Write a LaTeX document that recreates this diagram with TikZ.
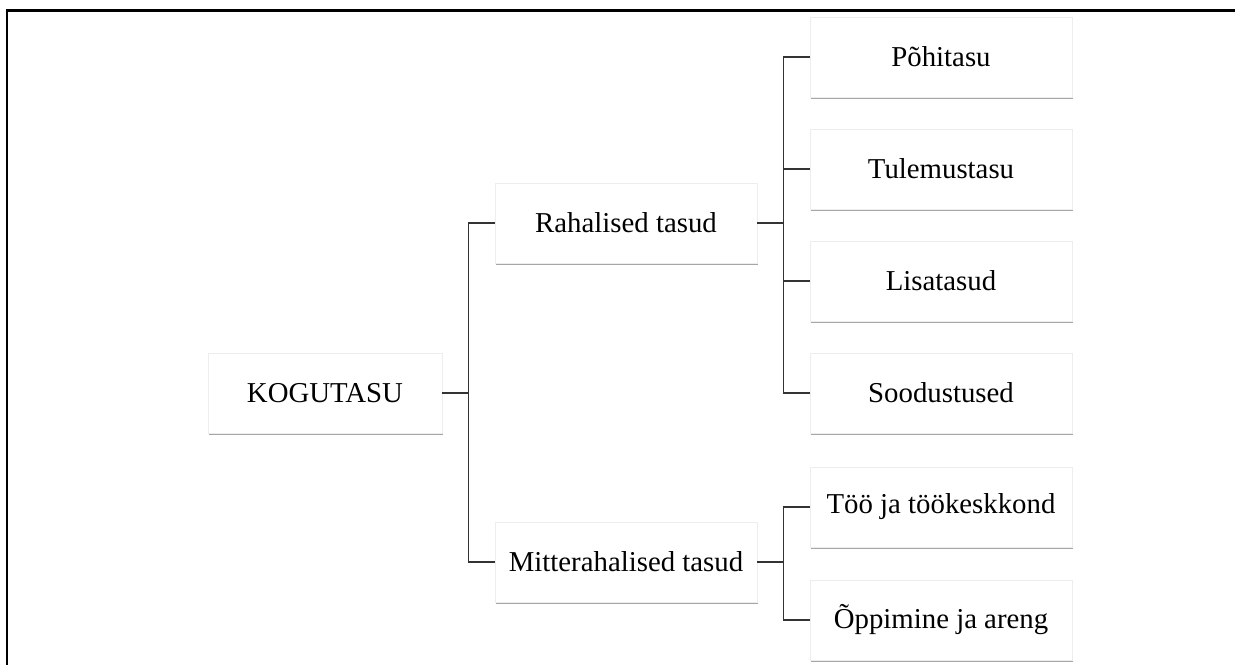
\documentclass[tikz,border=0pt]{standalone}
\usepackage{fontspec}
\setmainfont{Liberation Serif}
\usepackage{tikz}
\usetikzlibrary{positioning, calc, shadows}

\begin{document}
\begin{tikzpicture}[x=0.5pt, y=-0.5pt,
        box/.style={draw=black!7, fill=white, minimum width=131pt, minimum height=40pt,
            font=\fontsize{14.4}{17}\selectfont, inner sep=0pt,
            drop shadow={shadow xshift=0.6pt, shadow yshift=-1.1pt, fill=black, opacity=0.35}},
        link/.style={draw=black!80, line width=0.8pt}]
        \useasboundingbox (0,0) rectangle (1235,665);

        % Outer frame (cut at the right and bottom)
        \draw[line width=1.3pt] (7,665) -- (7,10.5) -- (1235,10.5);

        % Root
        \node[box, minimum width=117pt] (kogu) at (325,393) {KOGUTASU};

        % Second level
        \node[box] (raha) at (626,223) {Rahalised tasud};
        \node[box] (mitte) at (626,562) {Mitterahalised tasud};

        % Third level
        \node[box] (pohi) at (941,57) {Põhitasu};
        \node[box] (tulem) at (941,169) {Tulemustasu};
        \node[box] (lisa) at (941,281) {Lisatasud};
        \node[box] (sood) at (941,393) {Soodustused};
        \node[box] (too) at (941,507) {Töö ja töökeskkond};
        \node[box] (oppi) at (941,620) {Õppimine ja areng};

        % Connectors
        \draw[link] (kogu.east) -- ++(26,0) coordinate (t1);
        \draw[link] (t1) |- (raha.west);
        \draw[link] (t1) |- (mitte.west);

        \draw[link] (raha.east) -- ++(26,0) coordinate (t2);
        \foreach \n in {pohi, tulem, lisa, sood}
            \draw[link] (t2) |- (\n.west);

        \draw[link] (mitte.east) -- ++(26,0) coordinate (t3);
        \foreach \n in {too, oppi}
            \draw[link] (t3) |- (\n.west);
    \end{tikzpicture}
\end{document}
